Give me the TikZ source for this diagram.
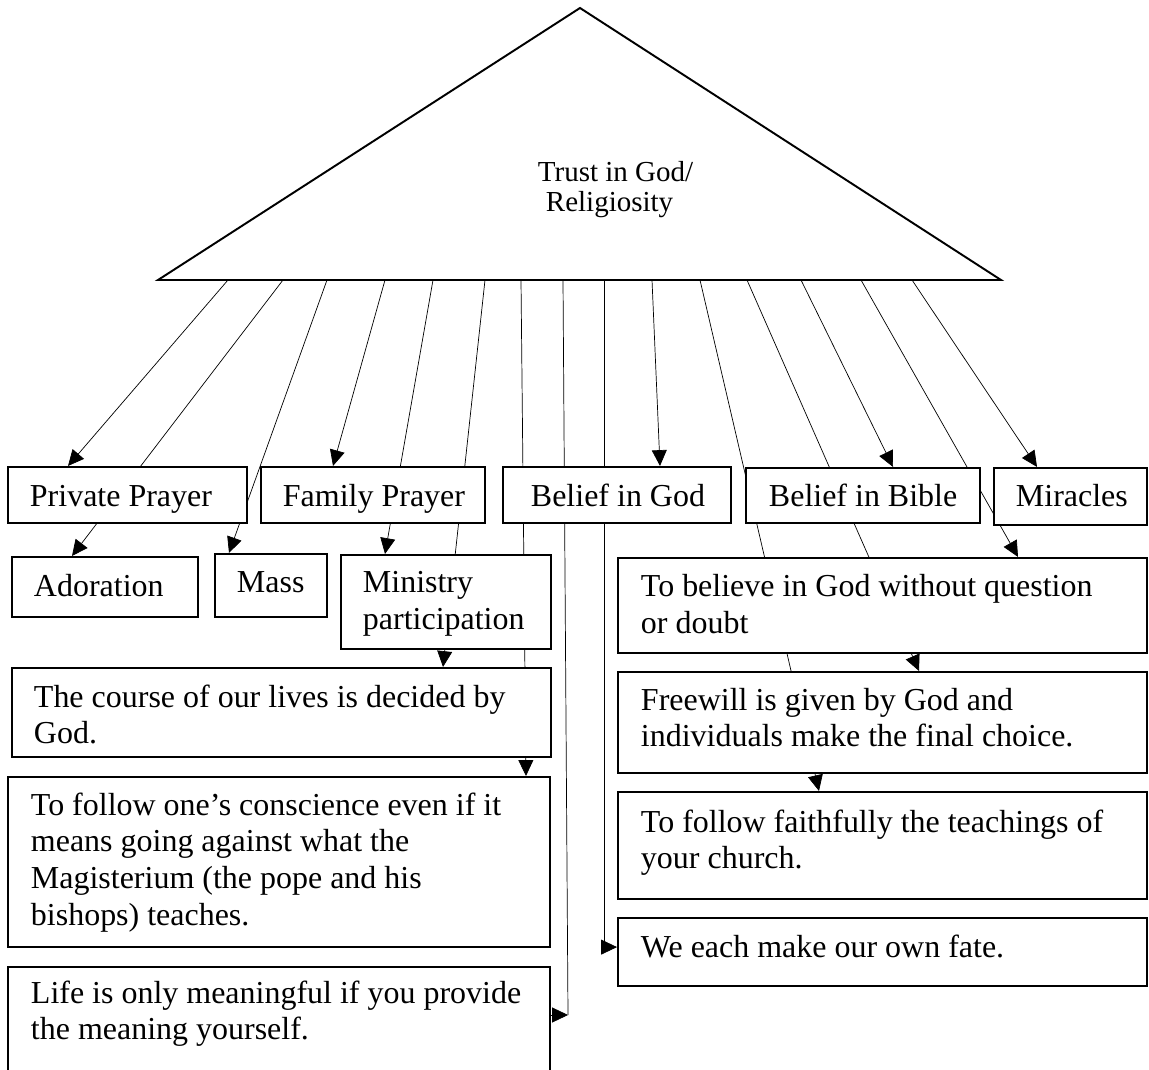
\documentclass[tikz,border=0pt]{standalone}
\usepackage{fontspec}
\setmainfont{Liberation Serif}
\usetikzlibrary{arrows.meta}
\pgfdeclarelayer{bg}
\pgfsetlayers{bg,main}
\newcommand\ml[1]{\begin{tabular}[t]{@{}l@{}}#1\end{tabular}}
\begin{document}
\begin{tikzpicture}[x=0.02cm,y=-0.02cm,line width=1.1pt,
  box/.style={draw, fill=white, inner sep=0pt, line width=1.2pt},
  txt/.style={anchor=base west, inner sep=0pt, font=\fontsize{18.2pt}{20.9pt}\selectfont},
  arr/.style={-{Triangle[length=9pt,width=8.5pt]}}]
\clip (0,0) rectangle (1149,1070);
\useasboundingbox (0,0) rectangle (1149,1070);

% apex triangle
\coordinate (apex) at (580,8);
\coordinate (bl) at (158,280);
\coordinate (br) at (1001,280);
\draw (bl) -- (apex) -- (br) -- cycle;
\node[txt, font=\fontsize{16.5pt}{18.5pt}\selectfont] (trust) at (537,182) {Trust in God/};
\node[txt, font=\fontsize{16.5pt}{18.5pt}\selectfont] (relig) at (545,212) {Religiosity};

% start points on the base
\foreach \n/\x in {1/228,2/283,3/327,4/385,5/433,6/485,7/521,8/563,9/604,10/652,11/700,12/747,13/801,14/861,15/912}
  \coordinate (s\n) at (\x,280);

% boxes
\node[box, minimum width=4.78cm, minimum height=1.12cm] (pp) at (127.5,495) {};
\node[box, minimum width=4.48cm, minimum height=1.12cm] (fp) at (373,495) {};
\node[box, minimum width=4.56cm, minimum height=1.12cm] (god) at (617,495) {};
\node[box, minimum width=4.68cm, minimum height=1.10cm] (bible) at (863,495.5) {};
\node[box, minimum width=3.06cm, minimum height=1.14cm] (mir) at (1070.5,496.5) {};
\node[box, minimum width=3.72cm, minimum height=1.20cm] (ado) at (105,587) {};
\node[box, minimum width=2.24cm, minimum height=1.26cm] (mass) at (271,585.5) {};
\node[box, minimum width=4.20cm, minimum height=1.88cm] (min) at (446,602) {};
\node[box, minimum width=10.78cm, minimum height=1.78cm] (course) at (281.5,712.5) {};
\node[box, minimum width=10.84cm, minimum height=3.40cm] (consc) at (279,862) {};
\node[box, minimum width=10.84cm, minimum height=2.16cm] (life) at (279,1021) {};
\node[box, minimum width=10.58cm, minimum height=1.90cm] (believe) at (882.5,605.5) {};
\node[box, minimum width=10.58cm, minimum height=2.02cm] (free) at (882.5,722.5) {};
\node[box, minimum width=10.58cm, minimum height=2.14cm] (follow) at (882.5,845.5) {};
\node[box, minimum width=10.58cm, minimum height=1.36cm] (we) at (882.5,952) {};

% texts
\node[txt] (pp-t) at (29,507) {Private Prayer};
\node[txt] (fp-t) at (282,507) {Family Prayer};
\node[txt] (god-t) at (530,507) {Belief in God};
\node[txt] (bible-t) at (768,507) {Belief in Bible};
\node[txt] (mir-t) at (1015,507) {Miracles};
\node[txt] (ado-t) at (33,597) {Adoration};
\node[txt] (mass-t) at (236,593) {Mass};
\node[txt] (min-t) at (362,593) {\ml{Ministry\\participation}};
\node[txt] (course-t) at (33,707) {\ml{The course of our lives is decided by\\God.}};
\node[txt] (consc-t) at (30,815) {\ml{To follow one’s conscience even if it\\means going against what the\\Magisterium (the pope and his\\bishops) teaches.}};
\node[txt] (life-t) at (30,1003) {\ml{Life is only meaningful if you provide\\the meaning yourself.}};
\node[txt] (believe-t) at (640,597) {\ml{To believe in God without question\\or doubt}};
\node[txt] (free-t) at (640,710) {\ml{Freewill is given by God and\\individuals make the final choice.}};
\node[txt] (follow-t) at (640,832) {\ml{To follow faithfully the teachings of\\your church.}};
\node[txt] (we-t) at (640,957) {We each make our own fate.};

% connectors (behind the boxes)
\coordinate (c8) at (568,1015);
\begin{pgfonlayer}{bg}
\draw[arr] (s1) -- (pp.north -| 68,0);
\draw[arr] (s2) -- (ado.north -| 72,0);
\draw[arr] (s3) -- (mass.north -| 229,0);
\draw[arr] (s4) -- (fp.north -| 333,0);
\draw[arr] (s5) -- (min.north -| 385,0);
\draw[arr] (s6) -- (course.north -| 443,0);
\draw[arr] (s7) -- (consc.north -| 526,0);
\draw (s8) -- (c8);
\draw[arr] (life.east |- c8) -- (c8);
\draw[arr] (s9) |- ([yshift=2.8pt]we.west);
\draw[arr] (s10) -- (god.north -| 660,0);
\draw[arr] (s11) -- (follow.north -| 819,0);
\draw[arr] (s12) -- (free.north -| 919,0);
\draw[arr] (s13) -- (bible.north -| 893,0);
\draw[arr] (s14) -- (believe.north -| 1018,0);
\draw[arr] (s15) -- (mir.north -| 1037,0);
\end{pgfonlayer}
\end{tikzpicture}
\end{document}
